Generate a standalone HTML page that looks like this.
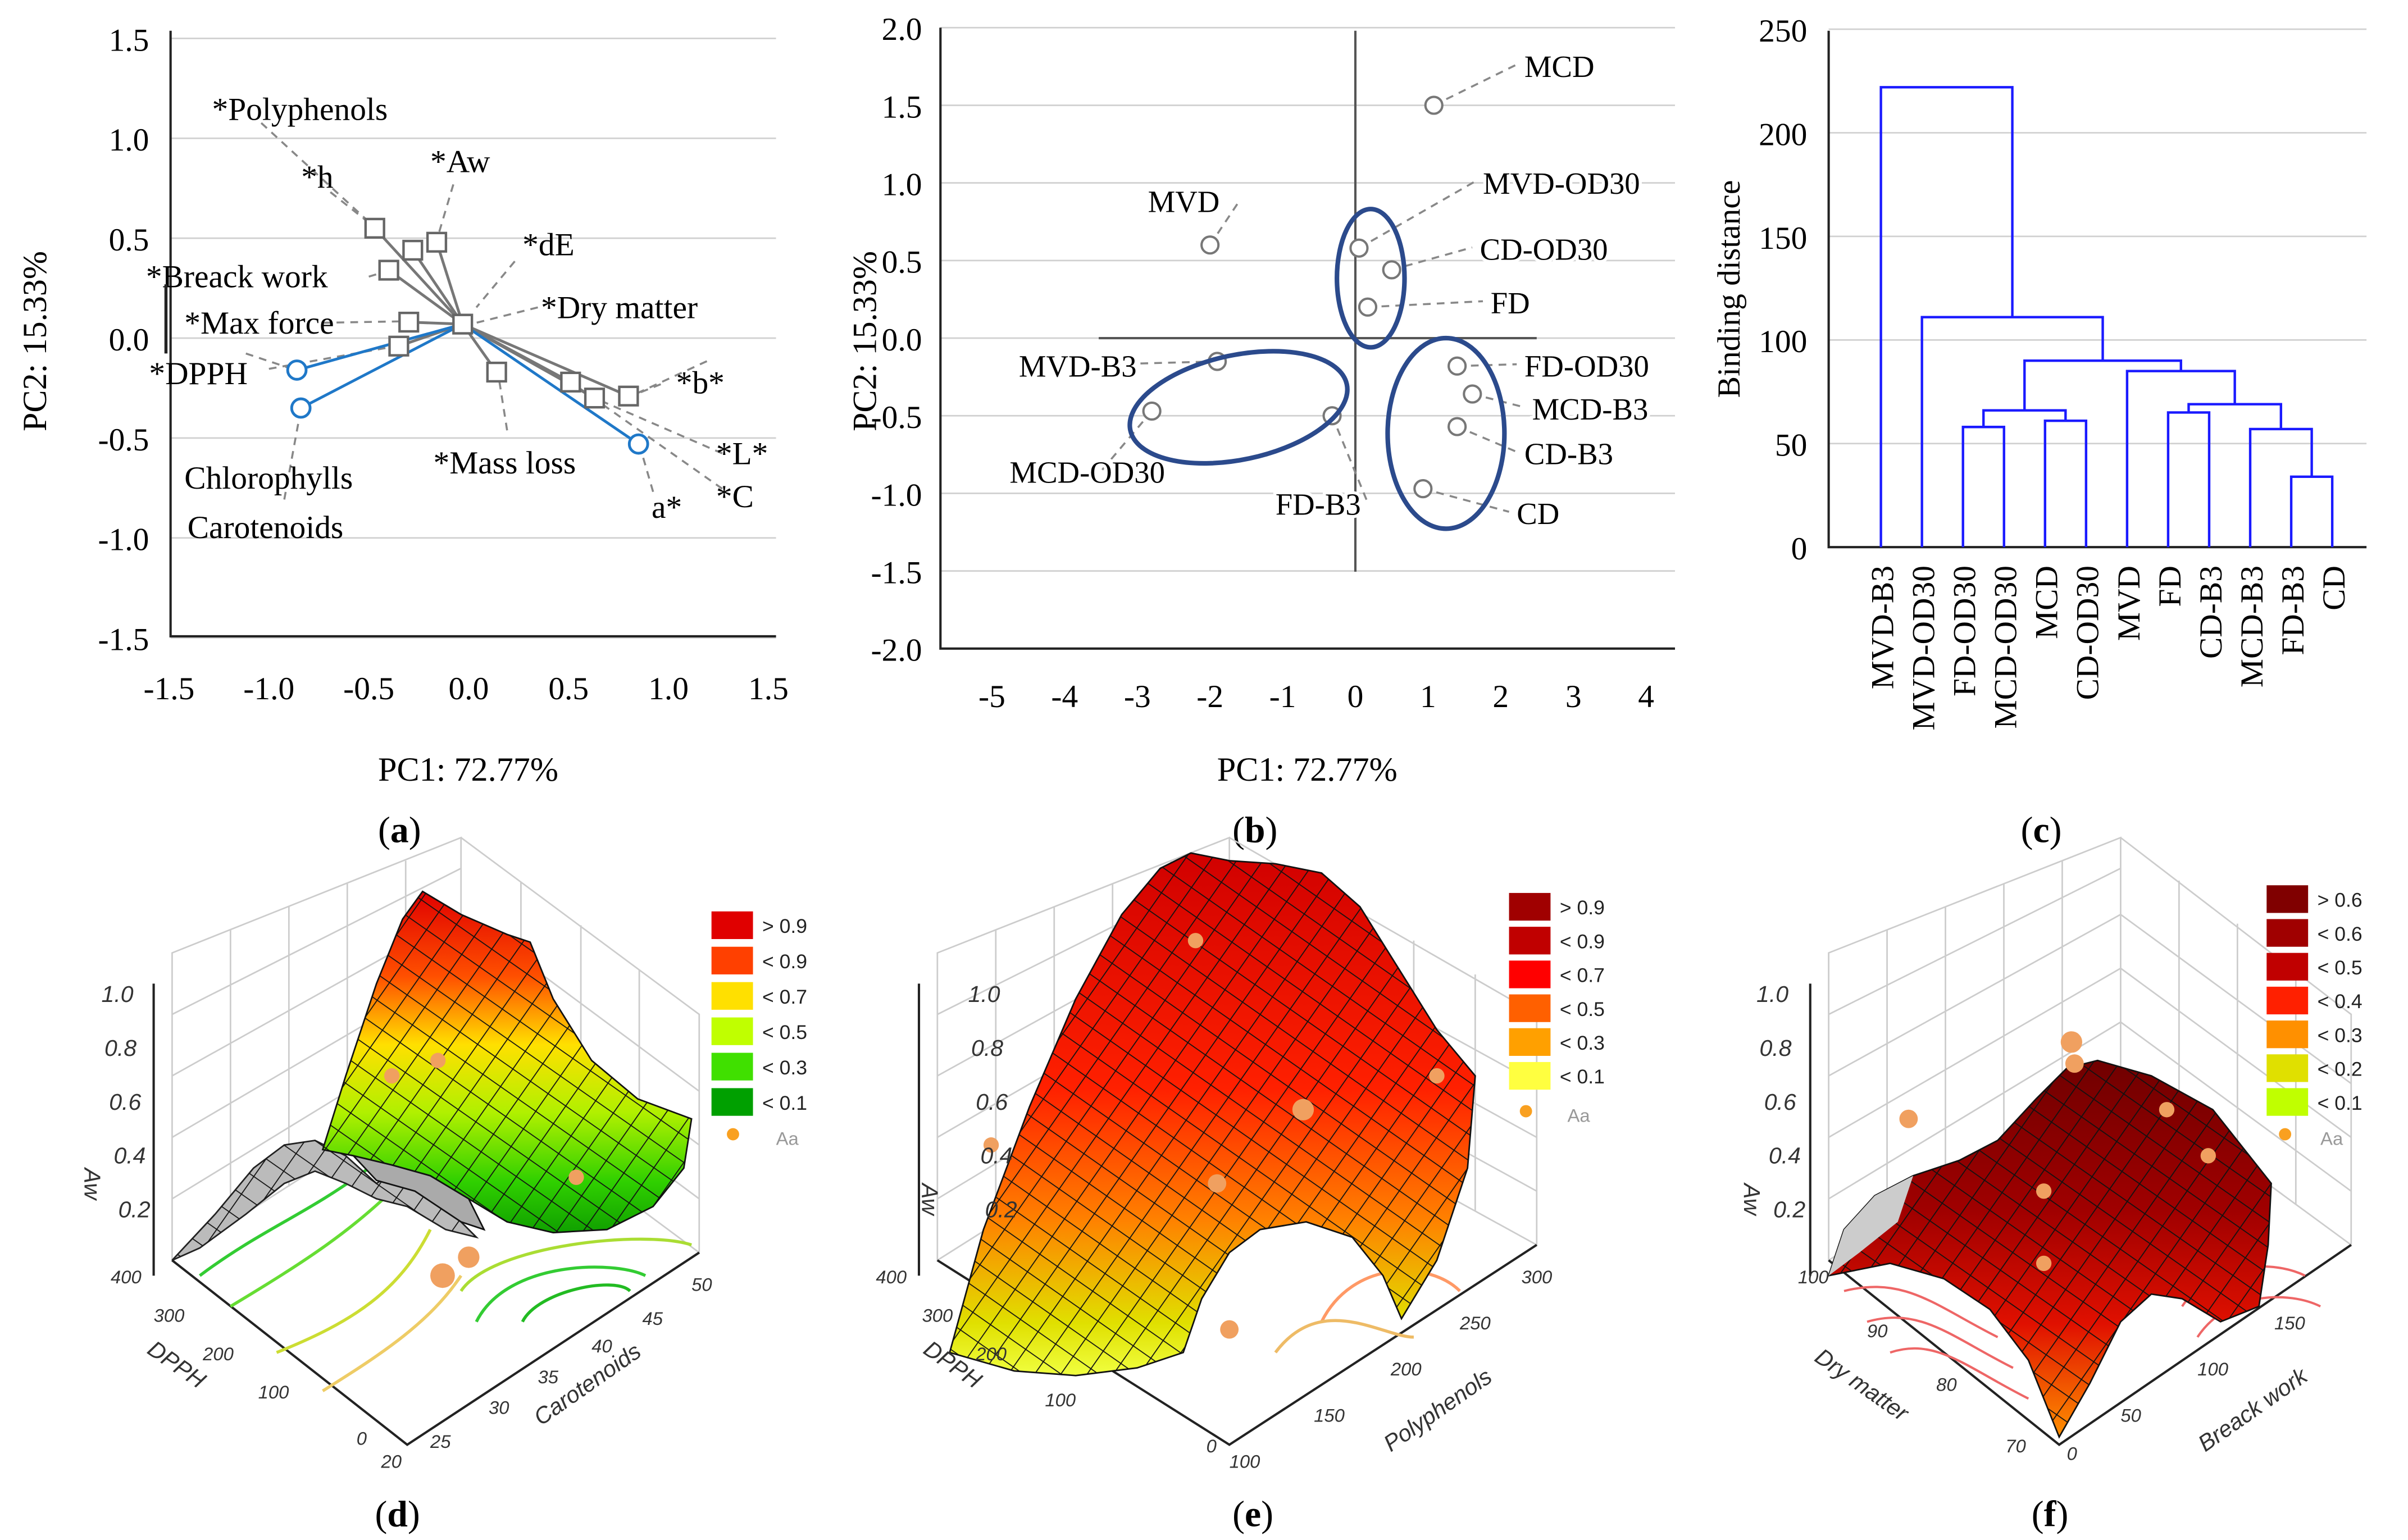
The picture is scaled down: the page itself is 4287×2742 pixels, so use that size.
<!DOCTYPE html>
<html><head><meta charset="utf-8"><style>
html,body{margin:0;padding:0;background:#fff}
svg{display:block}
.serif{font-family:"Liberation Serif",serif}
.sans{font-family:"Liberation Sans",sans-serif}
</style></head><body>
<svg id="fig" width="4287" height="2742" viewBox="0 0 1567 1002" preserveAspectRatio="none" xmlns="http://www.w3.org/2000/svg">
<defs>
<pattern id="mesh" width="14" height="14" patternUnits="userSpaceOnUse" patternTransform="rotate(35)"><path d="M0 0H14M0 0V14" stroke="#111" stroke-width="1.3" fill="none"/></pattern>
<linearGradient id="gd" x1="0" y1="0" x2="0" y2="1"><stop offset="0" stop-color="#e00000"/><stop offset="0.25" stop-color="#ff5000"/><stop offset="0.45" stop-color="#ffe000"/><stop offset="0.65" stop-color="#b0f000"/><stop offset="0.85" stop-color="#30d000"/><stop offset="1" stop-color="#10a000"/></linearGradient>
<linearGradient id="ge" x1="0" y1="0" x2="0" y2="1"><stop offset="0" stop-color="#d00000"/><stop offset="0.45" stop-color="#ff2000"/><stop offset="0.7" stop-color="#ff8000"/><stop offset="0.9" stop-color="#e0e000"/><stop offset="1" stop-color="#f0ff40"/></linearGradient>
<linearGradient id="gf" x1="0" y1="0" x2="0" y2="1"><stop offset="0" stop-color="#700000"/><stop offset="0.4" stop-color="#a00000"/><stop offset="0.7" stop-color="#e01000"/><stop offset="1" stop-color="#ff9000"/></linearGradient>
</defs>
<g id="pa"></g>
<g id="pb"></g>
<g id="pc"></g>

<!-- Panel d -->
<g class="sans">
 <g stroke="#ccc" stroke-width="1" fill="none">
  <path d="M112 820 L300 700 L300 545 L112 620Z M300 700 L455 815 L455 660 L300 545"/>
  <path d="M150 796V605 M188 772V590 M226 748V575 M264 724V560 M112 780L300 665 M112 740L300 630 M112 700L300 595 M112 660L300 565 M339 729V574 M378 757V602 M416 786V631 M300 665L455 780 M300 630L455 745 M300 595L455 710"/>
 </g>
 <path d="M112 820 L265 940 L455 815" stroke="#222" fill="none" stroke-width="1.5"/>
 <path d="M100 830 V640" stroke="#222" stroke-width="1.5"/>
 <g fill="none" stroke-width="2">
  <path d="M130 830 C170 800 200 790 240 760" stroke="#3c3"/><path d="M150 850 C200 820 230 800 260 770" stroke="#6d3"/>
  <path d="M180 880 C230 860 260 840 280 800" stroke="#cd3"/><path d="M210 905 C250 880 280 860 300 830" stroke="#ec6"/>
  <path d="M310 860 C330 820 400 820 420 830" stroke="#3c3"/><path d="M340 860 C350 840 400 830 410 840" stroke="#2b2"/>
  <path d="M300 840 C320 810 420 800 450 810" stroke="#ad3"/>
 </g>
 <path d="M112 820 L140 790 L165 760 L185 745 L205 742 L225 752 L245 770 L260 760 L275 770 L295 790 L310 805 L290 800 L265 785 L245 780 L225 770 L205 762 L185 770 L160 790 L130 812Z" fill="#bbb" stroke="#222"/>
 <path d="M112 820 L140 790 L165 760 L185 745 L205 742 L225 752 L245 770 L260 760 L275 770 L295 790 L310 805 L290 800 L265 785 L245 780 L225 770 L205 762 L185 770 L160 790 L130 812Z" fill="url(#mesh)"/>
 <path d="M210 748 L225 700 L245 640 L262 598 L275 580 L300 595 L330 608 L345 613 L360 650 L385 690 L415 715 L450 728 L445 760 L425 785 L395 800 L360 802 L330 795 L305 780 L280 765 L255 758 L230 752Z" fill="url(#gd)"/>
 <path d="M210 748 L225 700 L245 640 L262 598 L275 580 L300 595 L330 608 L345 613 L360 650 L385 690 L415 715 L450 728 L445 760 L425 785 L395 800 L360 802 L330 795 L305 780 L280 765 L255 758 L230 752Z" fill="url(#mesh)" stroke="#111"/>
 <path d="M230 752 L255 758 L280 765 L305 780 L315 800 L300 795 L270 775 L245 768Z" fill="#aaa" stroke="#111"/>
 <g fill="#f0a060"><circle cx="288" cy="830" r="8"/><circle cx="305" cy="818" r="7"/><circle cx="285" cy="690" r="5"/><circle cx="375" cy="766" r="5"/><circle cx="255" cy="700" r="5"/></g>
 <g font-size="15" fill="#333" font-style="italic"><text x="66" y="652">1.0</text><text x="68" y="687">0.8</text><text x="71" y="722">0.6</text><text x="74" y="757">0.4</text><text x="77" y="792">0.2</text>
 <text transform="translate(55,760) rotate(90)" font-size="15">Aw</text>
 <text x="72" y="835" font-size="12">400</text><text x="100" y="860" font-size="12">300</text><text x="132" y="885" font-size="12">200</text><text x="168" y="910" font-size="12">100</text><text x="232" y="940" font-size="12">0</text>
 <text transform="translate(95,880) rotate(35)" font-size="15">DPPH</text>
 <text x="248" y="955" font-size="12">20</text><text x="280" y="942" font-size="12">25</text><text x="318" y="920" font-size="12">30</text><text x="350" y="900" font-size="12">35</text><text x="385" y="880" font-size="12">40</text><text x="418" y="862" font-size="12">45</text><text x="450" y="840" font-size="12">50</text>
 <text transform="translate(352,928) rotate(-35)" font-size="15">Carotenoids</text></g>
 <g font-size="13" fill="#222">
  <rect x="463" y="593" width="27" height="18" fill="#e00000"/><text x="496" y="607">&gt; 0.9</text>
  <rect x="463" y="616" width="27" height="18" fill="#ff4000"/><text x="496" y="630">&lt; 0.9</text>
  <rect x="463" y="639" width="27" height="18" fill="#ffe000"/><text x="496" y="653">&lt; 0.7</text>
  <rect x="463" y="662" width="27" height="18" fill="#c0ff00"/><text x="496" y="676">&lt; 0.5</text>
  <rect x="463" y="685" width="27" height="18" fill="#40e000"/><text x="496" y="699">&lt; 0.3</text>
  <rect x="463" y="708" width="27" height="18" fill="#00a000"/><text x="496" y="722">&lt; 0.1</text>
  <circle cx="477" cy="738" r="4" fill="#f9a020"/><text x="505" y="745" fill="#999" font-size="12">Aa</text>
 </g>
 <text x="244" y="993" class="serif" font-size="24">(<tspan font-weight="bold">d</tspan>)</text>
</g>

<!-- Panel e -->
<g class="sans">
 <g stroke="#ccc" stroke-width="1" fill="none">
  <path d="M610 820 L800 700 L800 545 L610 620Z M800 700 L1000 810 L1000 660 L800 545"/>
  <path d="M648 796V605 M686 772V590 M724 748V575 M762 724V560 M610 780L800 665 M610 740L800 630 M610 700L800 595 M610 660L800 565 M840 722V568 M880 744V590 M920 766V612 M960 788V634 M800 665L1000 775 M800 630L1000 740 M800 595L1000 705"/>
 </g>
 <path d="M610 820 L800 940 L1000 810" stroke="#222" fill="none" stroke-width="1.5"/>
 <path d="M598 830 V640" stroke="#222" stroke-width="1.5"/>
 <g fill="none" stroke-width="2"><path d="M660 880 C700 860 720 830 760 850" stroke="#ea5"/><path d="M860 860 C880 820 930 820 950 840" stroke="#f96"/><path d="M830 880 C860 840 900 870 920 870" stroke="#eb6"/></g>
 <path d="M618 880 L640 800 L670 720 L700 650 L730 595 L755 565 L775 555 L800 560 L830 562 L860 568 L885 590 L910 630 L935 670 L960 700 L955 760 L935 820 L912 858 L900 830 L880 805 L850 795 L820 800 L800 815 L782 845 L770 880 L740 890 L700 895 L660 892Z" fill="url(#ge)"/>
 <path d="M618 880 L640 800 L670 720 L700 650 L730 595 L755 565 L775 555 L800 560 L830 562 L860 568 L885 590 L910 630 L935 670 L960 700 L955 760 L935 820 L912 858 L900 830 L880 805 L850 795 L820 800 L800 815 L782 845 L770 880 L740 890 L700 895 L660 892Z" fill="url(#mesh)" stroke="#111"/>
 <g fill="#f0a060"><circle cx="848" cy="722" r="7"/><circle cx="792" cy="770" r="6"/><circle cx="800" cy="865" r="6"/><circle cx="645" cy="745" r="5"/><circle cx="935" cy="700" r="5"/><circle cx="778" cy="612" r="5"/></g>
 <g font-size="15" fill="#333" font-style="italic"><text x="630" y="652">1.0</text><text x="632" y="687">0.8</text><text x="635" y="722">0.6</text><text x="638" y="757">0.4</text><text x="641" y="792">0.2</text>
 <text transform="translate(600,770) rotate(90)">Aw</text>
 <text x="570" y="835" font-size="12">400</text><text x="600" y="860" font-size="12">300</text><text x="635" y="885" font-size="12">200</text><text x="680" y="915" font-size="12">100</text><text x="785" y="945" font-size="12">0</text>
 <text transform="translate(600,880) rotate(35)">DPPH</text>
 <text x="800" y="955" font-size="12">100</text><text x="855" y="925" font-size="12">150</text><text x="905" y="895" font-size="12">200</text><text x="950" y="865" font-size="12">250</text><text x="990" y="835" font-size="12">300</text>
 <text transform="translate(905,945) rotate(-35)">Polyphenols</text></g>
 <g font-size="13" fill="#222">
  <rect x="982" y="581" width="27" height="18" fill="#a00000"/><text x="1015" y="595">&gt; 0.9</text>
  <rect x="982" y="603" width="27" height="18" fill="#c00000"/><text x="1015" y="617">&lt; 0.9</text>
  <rect x="982" y="625" width="27" height="18" fill="#ff0000"/><text x="1015" y="639">&lt; 0.7</text>
  <rect x="982" y="647" width="27" height="18" fill="#ff6000"/><text x="1015" y="661">&lt; 0.5</text>
  <rect x="982" y="669" width="27" height="18" fill="#ffa000"/><text x="1015" y="683">&lt; 0.3</text>
  <rect x="982" y="691" width="27" height="18" fill="#ffff40"/><text x="1015" y="705">&lt; 0.1</text>
  <circle cx="993" cy="723" r="4" fill="#f9a020"/><text x="1020" y="730" fill="#999" font-size="12">Aa</text>
 </g>
 <text x="802" y="993" class="serif" font-size="24">(<tspan font-weight="bold">e</tspan>)</text>
</g>

<!-- Panel f -->
<g class="sans">
 <g stroke="#ccc" stroke-width="1" fill="none">
  <path d="M1190 820 L1380 700 L1380 545 L1190 620Z M1380 700 L1530 810 L1530 660 L1380 545"/>
  <path d="M1228 796V605 M1266 772V590 M1304 748V575 M1342 724V560 M1190 780L1380 665 M1190 740L1380 630 M1190 700L1380 595 M1190 660L1380 565 M1418 728V573 M1456 756V601 M1494 784V629 M1380 665L1530 775 M1380 630L1530 740 M1380 595L1530 705"/>
 </g>
 <path d="M1190 820 L1340 940 L1530 810" stroke="#222" fill="none" stroke-width="1.5"/>
 <path d="M1178 830 V640" stroke="#222" stroke-width="1.5"/>
 <g fill="none" stroke-width="1.5" stroke="#e66"><path d="M1200 840 C1240 830 1260 850 1300 870"/><path d="M1215 860 C1250 850 1270 870 1310 890"/><path d="M1230 880 C1260 870 1280 890 1320 910"/><path d="M1420 850 C1440 820 1480 820 1500 830"/><path d="M1430 870 C1450 840 1490 840 1510 850"/></g>
 <path d="M1190 830 L1200 800 L1220 778 L1245 765 L1275 755 L1300 742 L1325 715 L1345 695 L1365 690 L1400 700 L1440 722 L1478 770 L1476 810 L1470 850 L1445 860 L1420 845 L1400 842 L1380 860 L1360 900 L1340 935 L1320 885 L1295 852 L1265 832 L1230 822Z" fill="url(#gf)"/>
 <path d="M1190 830 L1200 800 L1220 778 L1245 765 L1275 755 L1300 742 L1325 715 L1345 695 L1365 690 L1400 700 L1440 722 L1478 770 L1476 810 L1470 850 L1445 860 L1420 845 L1400 842 L1380 860 L1360 900 L1340 935 L1320 885 L1295 852 L1265 832 L1230 822Z" fill="url(#mesh)" stroke="#111"/>
 <path d="M1190 830 L1200 800 L1220 778 L1245 765 L1235 795 L1210 815Z" fill="#ccc"/>
 <g fill="#f0a060"><circle cx="1348" cy="678" r="7"/><circle cx="1350" cy="692" r="6"/><circle cx="1242" cy="728" r="6"/><circle cx="1330" cy="775" r="5"/><circle cx="1330" cy="822" r="5"/><circle cx="1437" cy="752" r="5"/><circle cx="1410" cy="722" r="5"/></g>
 <g font-size="15" fill="#333" font-style="italic"><text x="1143" y="652">1.0</text><text x="1145" y="687">0.8</text><text x="1148" y="722">0.6</text><text x="1151" y="757">0.4</text><text x="1154" y="792">0.2</text>
 <text transform="translate(1135,770) rotate(90)">Aw</text>
 <text x="1170" y="835" font-size="12">100</text><text x="1215" y="870" font-size="12">90</text><text x="1260" y="905" font-size="12">80</text><text x="1305" y="945" font-size="12">70</text>
 <text transform="translate(1180,885) rotate(35)">Dry matter</text>
 <text x="1345" y="950" font-size="12">0</text><text x="1380" y="925" font-size="12">50</text><text x="1430" y="895" font-size="12">100</text><text x="1480" y="865" font-size="12">150</text>
 <text transform="translate(1435,945) rotate(-35)">Breack work</text></g>
 <g font-size="13" fill="#222">
  <rect x="1475" y="576" width="27" height="18" fill="#800000"/><text x="1508" y="590">&gt; 0.6</text>
  <rect x="1475" y="598" width="27" height="18" fill="#a00000"/><text x="1508" y="612">&lt; 0.6</text>
  <rect x="1475" y="620" width="27" height="18" fill="#c00000"/><text x="1508" y="634">&lt; 0.5</text>
  <rect x="1475" y="642" width="27" height="18" fill="#ff2000"/><text x="1508" y="656">&lt; 0.4</text>
  <rect x="1475" y="664" width="27" height="18" fill="#ff9000"/><text x="1508" y="678">&lt; 0.3</text>
  <rect x="1475" y="686" width="27" height="18" fill="#e0e000"/><text x="1508" y="700">&lt; 0.2</text>
  <rect x="1475" y="708" width="27" height="18" fill="#c0ff00"/><text x="1508" y="722">&lt; 0.1</text>
  <circle cx="1487" cy="738" r="4" fill="#f9a020"/><text x="1510" y="745" fill="#999" font-size="12">Aa</text>
 </g>
 <text x="1322" y="993" class="serif" font-size="24">(<tspan font-weight="bold">f</tspan>)</text>
</g>
</svg>
<script>
const NS="http://www.w3.org/2000/svg";
function mk(p,tag,attrs,txt){const e=document.createElementNS(NS,tag);for(const k in attrs)e.setAttribute(k,attrs[k]);if(txt!=null)e.textContent=txt;p.appendChild(e);return e;}

/* ---------- Panel a data ---------- */
const aTicks=[-1.5,-1.0,-0.5,0.0,0.5,1.0,1.5];
const aTickLabels=["-1.5","-1.0","-0.5","0.0","0.5","1.0","1.5"];
const aSqX=[-0.47,-0.4,-0.28,-0.16,-0.3,-0.35,0.14,0.51,0.63,0.8];
const aSqY=[0.55,0.34,0.44,0.48,0.08,-0.04,-0.17,-0.22,-0.3,-0.29];
const aCircX=[-0.86,-0.84,0.85];
const aCircY=[-0.16,-0.35,-0.53];
const aOrigin=[-0.03,0.07];
const aX=v=>305+v*130, aY=v=>220-v*130;

const pa=document.getElementById('pa');
aTicks.forEach((t,i)=>{
  const gl=mk(pa,'line',{x1:111,x2:505,y1:aY(t),y2:aY(t),stroke:'#d0d0d0','stroke-width':1});
  
  
  const yl=mk(pa,'text',{x:97,y:aY(t)+8,'text-anchor':'end','font-size':21,class:'serif'},aTickLabels[i]);
  
  
  const xl=mk(pa,'text',{x:aX(t),y:455,'text-anchor':'middle','font-size':21,class:'serif'},aTickLabels[i]);
  
  
});
mk(pa,'path',{d:'M111 20V414H505',stroke:'#222',fill:'none','stroke-width':1.5});
const aLeaders=[[170,80,244,148],[215,125,244,148],[295,120,284,157],[335,170,310,200],[350,200,310,210],[240,180,253,176],[210,210,266,209],[175,240,259,225],[330,280,324,242],[430,250,410,258],[470,295,387,259],[470,318,372,249],[425,320,416,289],[160,230,193,241],[185,325,196,265],[460,235,410,258]];
aLeaders.forEach(l=>mk(pa,'line',{x1:l[0],y1:l[1],x2:l[2],y2:l[3],stroke:'#888','stroke-dasharray':'5,4','stroke-width':1.3}));
aSqX.forEach((v,i)=>{
  mk(pa,'line',{x1:aX(aOrigin[0]),y1:aY(aOrigin[1]),x2:aX(v),y2:aY(aSqY[i]),stroke:'#777','stroke-width':1.8});
});
aCircX.forEach((v,i)=>{
  mk(pa,'line',{x1:aX(aOrigin[0]),y1:aY(aOrigin[1]),x2:aX(v),y2:aY(aCircY[i]),stroke:'#1f78c8','stroke-width':1.8});
});
aSqX.forEach((v,i)=>{
  const r=mk(pa,'rect',{x:aX(v)-6,y:aY(aSqY[i])-6,width:12,height:12,fill:'#fff',stroke:'#666','stroke-width':1.6});
  
  
});
aCircX.forEach((v,i)=>{
  const c=mk(pa,'circle',{cx:aX(v),cy:aY(aCircY[i]),r:6,fill:'#fff',stroke:'#1f78c8','stroke-width':1.8});
  
  
});
mk(pa,'rect',{x:aX(aOrigin[0])-6,y:aY(aOrigin[1])-6,width:12,height:12,fill:'#fff',stroke:'#666','stroke-width':1.6});
const aLabels=[["*Polyphenols",138,78],["*h",196,122],["*Aw",280,112],["*dE",340,166],["*Breack work",95,187],["*Dry matter",352,207],["*Max force",120,217],["*DPPH",97,250],["*b*",440,256],["*Mass loss",282,308],["*L*",466,302],["Chlorophylls",120,318],["*C",466,330],["a*",424,337],["Carotenoids",122,350]];
aLabels.forEach(l=>{
  const t=mk(pa,'text',{x:l[1],y:l[2],'font-size':21,class:'serif'},l[0]);
  
  
});
mk(pa,'line',{x1:108,x2:108,y1:185,y2:230,stroke:'#222','stroke-width':2});
mk(pa,'text',{x:246,y:508,'font-size':22,class:'serif'},'PC1: 72.77%');
mk(pa,'text',{transform:'translate(30,222) rotate(-90)','text-anchor':'middle','font-size':22,class:'serif'},'PC2: 15.33%');
const al=mk(pa,'text',{x:246,y:548,'font-size':24,class:'serif'});al.innerHTML='(<tspan font-weight="bold">a</tspan>)';

/* ---------- Panel b data ---------- */
const bXTicks=[-5,-4,-3,-2,-1,0,1,2,3,4];
const bYTicks=[2.0,1.5,1.0,0.5,0.0,-0.5,-1.0,-1.5,-2.0];
const bYTickLabels=["2.0","1.5","1.0","0.5","0.0","-0.5","-1.0","-1.5","-2.0"];
const bNames=["MCD","MVD","MVD-OD30","CD-OD30","FD","MVD-B3","MCD-OD30","FD-B3","FD-OD30","MCD-B3","CD-B3","CD"];
const bPC1=[1.08,-2.0,0.05,0.5,0.17,-1.9,-2.8,-0.32,1.4,1.61,1.4,0.93];
const bPC2=[1.5,0.6,0.58,0.44,0.2,-0.15,-0.47,-0.5,-0.18,-0.36,-0.57,-0.97];
const bLabelPos=[[992,50],[747,138],[965,126],[963,169],[970,204],[663,245],[657,314],[830,335],[992,245],[997,273],[992,302],[987,341]];
const bX=v=>882+v*47.3, bY=v=>220-v*101;

const pb=document.getElementById('pb');
bYTicks.forEach((t,i)=>{
  const gl=mk(pb,'line',{x1:612,x2:1090,y1:bY(t),y2:bY(t),stroke:'#d0d0d0','stroke-width':1});
  
  
  const yl=mk(pb,'text',{x:600,y:bY(t)+8,'text-anchor':'end','font-size':21,class:'serif'},bYTickLabels[i]);
  
  
});
bXTicks.forEach(t=>{
  const xl=mk(pb,'text',{x:bX(t),y:460,'text-anchor':'middle','font-size':21,class:'serif'},String(t));
  
  
});
mk(pb,'path',{d:'M612 18V422H1090',stroke:'#222',fill:'none','stroke-width':1.5});
mk(pb,'line',{x1:bX(0),x2:bX(0),y1:20,y2:372,stroke:'#555','stroke-width':1.5});
mk(pb,'line',{x1:715,x2:1000,y1:bY(0),y2:bY(0),stroke:'#555','stroke-width':1.5});
bPC1.forEach((v,i)=>{
  const lp=bLabelPos[i];
  const lx=lp[0]<bX(v)?lp[0]+60:lp[0]-5;
  mk(pb,'line',{x1:bX(v),y1:bY(bPC2[i]),x2:lx,y2:lp[1]-8,stroke:'#888','stroke-dasharray':'5,4','stroke-width':1.3});
});
bPC1.forEach((v,i)=>{
  const c=mk(pb,'circle',{cx:bX(v),cy:bY(bPC2[i]),r:5.5,fill:'#fff',stroke:'#777','stroke-width':1.5});
  
  
  mk(pb,'text',{x:bLabelPos[i][0],y:bLabelPos[i][1],'font-size':20,class:'serif',fill:'#fff',stroke:'#fff','stroke-width':4},bNames[i]);
  const t2=mk(pb,'text',{x:bLabelPos[i][0],y:bLabelPos[i][1],'font-size':20,class:'serif'},bNames[i]);
  
  
});
[[892,181,22,45,0],[806,265,72,34,-12],[941,282,38,62,0]].forEach(e=>{
  const el=mk(pb,'ellipse',{cx:e[0],cy:e[1],rx:e[2],ry:e[3],transform:`rotate(${e[4]} ${e[0]} ${e[1]})`,fill:'none',stroke:'#2b4a8c','stroke-width':3});
  
  
});
mk(pb,'text',{x:792,y:508,'font-size':22,class:'serif'},'PC1: 72.77%');
mk(pb,'text',{transform:'translate(570,222) rotate(-90)','text-anchor':'middle','font-size':22,class:'serif'},'PC2: 15.33%');
const bl=mk(pb,'text',{x:802,y:548,'font-size':24,class:'serif'});bl.innerHTML='(<tspan font-weight="bold">b</tspan>)';

/* ---------- Panel c data ---------- */
const cLeaves=["MVD-B3","MVD-OD30","FD-OD30","MCD-OD30","MCD","CD-OD30","MVD","FD","CD-B3","MCD-B3","FD-B3","CD"];
const cTicks=[0,50,100,150,200,250];
const cMergeA=[10,2,4,7,9,13,15,6,14,1,0];
const cMergeB=[11,3,5,8,12,14,16,18,17,20,21];
const cHeight=[34,58,61,65,57,66,69,85,90,111,222];
const cX=i=>1224+i*26.7, cY=v=>356-v*1.348;

const pc=document.getElementById('pc');
cTicks.forEach(t=>{
  if(t>0){const gl=mk(pc,'line',{x1:1190,x2:1540,y1:cY(t),y2:cY(t),stroke:'#d0d0d0','stroke-width':1});
  
  }
  const yl=mk(pc,'text',{x:1176,y:cY(t)+8,'text-anchor':'end','font-size':21,class:'serif'},String(t));
  
  
});
mk(pc,'path',{d:'M1190 20V356H1540',stroke:'#222',fill:'none','stroke-width':1.5});
const nodeX=cLeaves.map((_,i)=>cX(i)), nodeH=cLeaves.map(()=>0);
const seq=[[10,11],[2,3],[4,5],[7,8],[9,12],[13,14],[15,16],[6,18],[17,19],[1,20],[0,21]];
seq.forEach((m,k)=>{
  const a=m[0],b=m[1],h=cHeight[k];
  const xa=nodeX[a],xb=nodeX[b];
  const p=mk(pc,'path',{d:`M${xa} ${cY(nodeH[a])}V${cY(h)}H${xb}V${cY(nodeH[b])}`,stroke:'#1a1aff',fill:'none','stroke-width':1.6});
  
  
  nodeX.push((xa+xb)/2);nodeH.push(h);
});
cLeaves.forEach((n,i)=>{
  const t=mk(pc,'text',{transform:`translate(${cX(i)+8},368) rotate(-90)`,'text-anchor':'end','font-size':21,class:'serif'},n);
  
  
});
mk(pc,'text',{transform:'translate(1132,188) rotate(-90)','text-anchor':'middle','font-size':21,class:'serif'},'Binding distance');
const cl=mk(pc,'text',{x:1315,y:548,'font-size':24,class:'serif'});cl.innerHTML='(<tspan font-weight="bold">c</tspan>)';
</script>
</body></html>
